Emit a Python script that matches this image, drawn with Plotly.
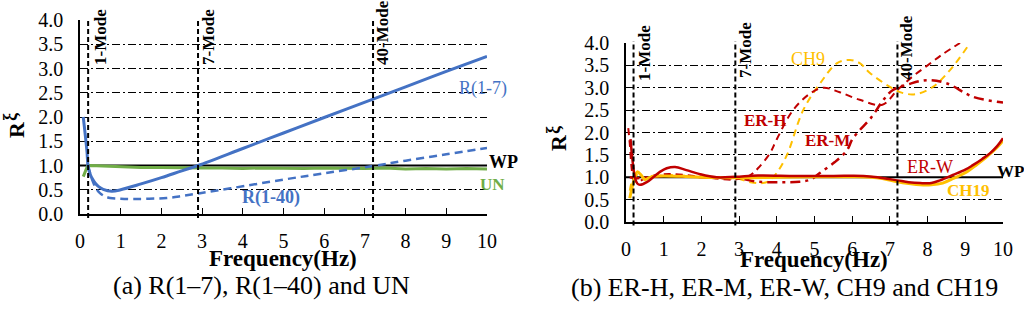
import plotly.graph_objects as go

# ---------------- data: panel (a) ----------------
r17_x = [0.08, 0.17, 0.2, 0.25, 0.3, 0.37, 0.45, 0.57, 0.78, 1.0, 1.5, 2.0, 2.5, 2.9, 4.0, 5.0, 6.0, 7.2, 8.0, 9.0, 10.0]
r17_y = [2.0, 1.3, 0.97, 0.82, 0.73, 0.64, 0.57, 0.51, 0.47, 0.5, 0.62, 0.75, 0.89, 1.0, 1.35, 1.67, 1.99, 2.37, 2.62, 2.94, 3.25]

r140_x = [0.2, 0.27, 0.33, 0.4, 0.49, 0.6, 0.74, 1.0, 1.3, 1.7, 2.13, 2.5, 2.95, 3.7, 5.0, 6.0, 7.2, 8.0, 9.0, 10.0]
r140_y = [1.0, 0.78, 0.64, 0.52, 0.43, 0.37, 0.33, 0.315, 0.31, 0.315, 0.33, 0.37, 0.43, 0.53, 0.71, 0.84, 0.99, 1.1, 1.23, 1.36]

un_x = [0.08, 0.12, 0.18, 0.25, 0.5, 1, 1.5, 2, 2.5, 3, 3.5, 4, 4.5, 5, 5.5, 6, 6.5, 7, 7.5, 8, 8.5, 9, 9.5, 10]
un_y = [0.77, 0.86, 0.98, 1.0, 0.99, 0.97, 0.96, 0.96, 0.95, 0.95, 0.95, 0.94, 0.95, 0.94, 0.94, 0.95, 0.94, 0.94, 0.95, 0.93, 0.94, 0.93, 0.94, 0.93]

wp_x = [0, 10]
wp_y = [1.0, 1.0]

# ---------------- data: panel (b) ----------------
erw_x = [0.12, 0.17, 0.24, 0.3, 0.37, 0.55, 0.72, 0.9, 1.08, 1.3, 1.6, 1.96, 2.4, 2.9, 3.5, 4.5, 5.5, 6.3, 6.74, 7.2, 7.5, 7.8, 8.1, 8.33, 8.67, 9.0, 9.2, 9.45, 9.66, 9.85, 10.0]
erw_y = [1.85, 1.4, 0.98, 0.86, 0.83, 0.89, 1.0, 1.12, 1.2, 1.23, 1.16, 1.07, 1.0, 1.01, 1.04, 1.03, 1.03, 1.03, 0.99, 0.93, 0.89, 0.87, 0.87, 0.93, 1.05, 1.17, 1.27, 1.41, 1.54, 1.7, 1.87]

ch19_x = [0.1, 0.2, 0.3, 0.4, 0.5, 0.7, 1.0, 1.5, 2, 3, 4, 5, 6, 6.5, 6.8, 7.2, 7.5, 7.8, 8.1, 8.4, 8.7, 9.0, 9.3, 9.6, 9.8, 10.0]
ch19_y = [0.53, 0.9, 1.12, 1.05, 0.95, 1.02, 1.03, 1.02, 1.0, 0.99, 1.0, 1.01, 1.01, 1.0, 0.97, 0.9, 0.86, 0.83, 0.83, 0.87, 0.98, 1.1, 1.28, 1.48, 1.63, 1.82]

ch9_x = [0.1, 0.2, 0.3, 0.5, 0.8, 1.2, 2, 2.9, 3.3, 3.63, 3.8, 4.0, 4.27, 4.7, 5.15, 5.6, 5.94, 6.2, 6.47, 7.0, 7.35, 7.7, 8.14, 8.6, 9.07]
ch9_y = [0.7, 1.0, 1.05, 0.98, 1.02, 1.05, 1.0, 0.98, 0.89, 0.87, 0.92, 1.1, 1.5, 2.5, 3.1, 3.55, 3.62, 3.55, 3.33, 3.02, 2.88, 2.86, 3.02, 3.4, 3.93]

erh_x = [0.06, 0.1, 0.15, 0.2, 0.3, 0.5, 0.8, 1.2, 1.8, 2.4, 2.9, 3.3, 3.5, 3.82, 4.0, 4.43, 4.88, 5.23, 5.67, 6.2, 6.8, 7.2, 7.6, 8.0, 8.4, 8.86]
erh_y = [2.1, 1.75, 1.2, 0.95, 0.9, 0.97, 1.05, 1.07, 1.03, 0.97, 0.95, 1.05, 1.2, 1.54, 1.85, 2.5, 2.87, 3.0, 2.9, 2.73, 2.62, 2.95, 3.25, 3.5, 3.75, 4.0]

erm_x = [0.1, 0.3, 0.6, 1.0, 1.5, 2.0, 2.5, 3.0, 3.5, 4.1, 4.6, 4.9, 5.15, 5.54, 5.86, 6.02, 6.52, 6.82, 7.08, 7.5, 7.98, 8.5, 9.2, 9.9, 10.0]
erm_y = [1.0, 0.98, 1.0, 1.03, 1.02, 1.0, 0.98, 0.97, 0.9, 0.89, 0.9, 0.95, 1.1, 1.34, 1.6, 1.87, 2.35, 2.72, 2.95, 3.08, 3.17, 3.1, 2.8, 2.68, 2.67]

mode_freqs = [0.2, 2.9, 7.2]
mode_labels = ["1-Mode", "7-Mode", "40-Mode"]
y_ticks = [0.0, 0.5, 1.0, 1.5, 2.0, 2.5, 3.0, 3.5, 4.0]
x_ticks = list(range(0, 11))

BLUE = "#4472C4"
GREEN = "#70AD47"
RED = "#C00000"
YELLOW = "#FFC000"
FONT = "Liberation Serif"
W, H = 1024, 315

fig = go.Figure()

# panel a
fig.add_trace(go.Scatter(x=wp_x, y=wp_y, mode="lines", line=dict(color="black", width=2), xaxis="x", yaxis="y"))
fig.add_trace(go.Scatter(x=un_x, y=un_y, mode="lines", line=dict(color=GREEN, width=3), xaxis="x", yaxis="y"))
fig.add_trace(go.Scatter(x=r140_x, y=r140_y, mode="lines", line=dict(color=BLUE, width=2.5, dash="8px,5px", shape="spline"), xaxis="x", yaxis="y"))
fig.add_trace(go.Scatter(x=r17_x, y=r17_y, mode="lines", line=dict(color=BLUE, width=3, shape="spline"), xaxis="x", yaxis="y"))

# panel b
fig.add_trace(go.Scatter(x=wp_x, y=wp_y, mode="lines", line=dict(color="black", width=2), xaxis="x2", yaxis="y2"))
fig.add_trace(go.Scatter(x=ch9_x, y=ch9_y, mode="lines", line=dict(color=YELLOW, width=2, dash="7px,5px", shape="spline"), xaxis="x2", yaxis="y2"))
fig.add_trace(go.Scatter(x=erh_x, y=erh_y, mode="lines", line=dict(color=RED, width=2, dash="7px,5px", shape="spline"), xaxis="x2", yaxis="y2"))
fig.add_trace(go.Scatter(x=erm_x, y=erm_y, mode="lines", line=dict(color=RED, width=2.5, dash="10px,5px,3px,5px", shape="spline"), xaxis="x2", yaxis="y2"))
fig.add_trace(go.Scatter(x=ch19_x, y=ch19_y, mode="lines", line=dict(color=YELLOW, width=3, shape="spline"), xaxis="x2", yaxis="y2"))
fig.add_trace(go.Scatter(x=erw_x, y=erw_y, mode="lines", line=dict(color=RED, width=2.5, shape="spline"), xaxis="x2", yaxis="y2"))

# pixel geometry of the two plot areas
A = dict(l=80, r=487, t=20, b=214)
B = dict(l=626, r=1003, t=43, b=222)

def dom(p):
    return [p["l"] / W, p["r"] / W], [(H - p["b"]) / H, (H - p["t"]) / H]

axx_common = dict(range=[0, 10], tickvals=x_ticks, ticks="inside", ticklen=6, tickwidth=1, tickcolor="black",
                  showline=True, linecolor="black", linewidth=1.5, showgrid=False, zeroline=False,
                  automargin=False,
                  tickfont=dict(family=FONT, size=20, color="black"), ticklabelstandoff=8)
axy_common = dict(range=[0, 4], tickvals=y_ticks, tickformat=".1f", ticks="", showline=True, linecolor="black",
                  linewidth=1.5, showgrid=True, gridcolor="black", gridwidth=1, griddash="8px,3px,2px,3px",
                  zeroline=False, automargin=False,
                  tickfont=dict(family=FONT, size=20, color="black"), ticklabelstandoff=11)

xa, ya = dom(A)
xb, yb = dom(B)
fig.update_layout(
    width=W, height=H, margin=dict(l=0, r=0, t=0, b=0, autoexpand=False), showlegend=False,
    plot_bgcolor="white", paper_bgcolor="white",
    xaxis=dict(domain=xa, anchor="y", **axx_common),
    yaxis=dict(domain=ya, anchor="x", **axy_common),
    xaxis2=dict(domain=xb, anchor="y2", **axx_common),
    yaxis2=dict(domain=yb, anchor="x2", **axy_common),
)

shapes = []
for f in mode_freqs:
    for xr, yr in (("x", "y domain"), ("x2", "y2 domain")):
        shapes.append(dict(type="line", xref=xr, yref=yr, x0=f, x1=f, y0=-0.02, y1=1.01,
                           line=dict(color="black", width=2, dash="5px,3px")))
fig.update_layout(shapes=shapes)

def ann(text, px, py, size=16, color="black", angle=0):
    return dict(text=text, x=px / W, y=1 - py / H, xref="paper", yref="paper", showarrow=False,
                xanchor="center", yanchor="middle", textangle=angle,
                font=dict(family=FONT, size=size, color=color))

anns = []
# mode labels
for lab, px, py in zip(mode_labels, [100, 208, 383], [37, 37, 33]):
    anns.append(ann("<b>" + lab + "</b>", px, py, 17, angle=-90))
for lab, px, py in zip(mode_labels, [644, 745, 906], [53, 50, 48]):
    anns.append(ann("<b>" + lab + "</b>", px, py, 17, angle=-90))

# series labels panel a
anns += [
    ann("R(1-7)", 483, 88, 18, BLUE),
    ann("<b>R(1-40)</b>", 271, 197, 18, BLUE),
    ann("<b>WP</b>", 503, 162, 18, "black"),
    ann("<b>UN</b>", 492, 184, 17, GREEN),
]
# series labels panel b
anns += [
    ann("CH9", 808, 59, 18, YELLOW),
    ann("<b>ER-H</b>", 765, 120, 17, RED),
    ann("<b>ER-M</b>", 827, 140, 17, RED),
    ann("ER-W", 930, 167, 18, RED),
    ann("<b>CH19</b>", 968, 190, 17, YELLOW),
    ann("<b>WP</b>", 1010, 172, 17, "black"),
]
# axis titles and captions
anns += [
    ann("<b>R</b>", 16, 130, 22, angle=-90),
    ann("<b>ξ</b>", 10, 117, 18, angle=-90),
    ann("<b>R</b>", 559, 143, 22, angle=-90),
    ann("<b>ξ</b>", 553, 130, 18, angle=-90),
    ann("<b>Frequency(Hz)</b>", 283, 258, 23),
    ann("<b>Frequency(Hz)</b>", 814, 259, 23),
    ann("(a) R(1–7), R(1–40) and UN", 261, 285, 26),
    ann("(b) ER-H, ER-M, ER-W, CH9 and CH19", 784, 287, 26),
]
fig.update_layout(annotations=anns)

fig.write_html("out.html", config={"displayModeBar": False},
               post_script="document.body.style.margin='0';document.body.style.padding='0';")
